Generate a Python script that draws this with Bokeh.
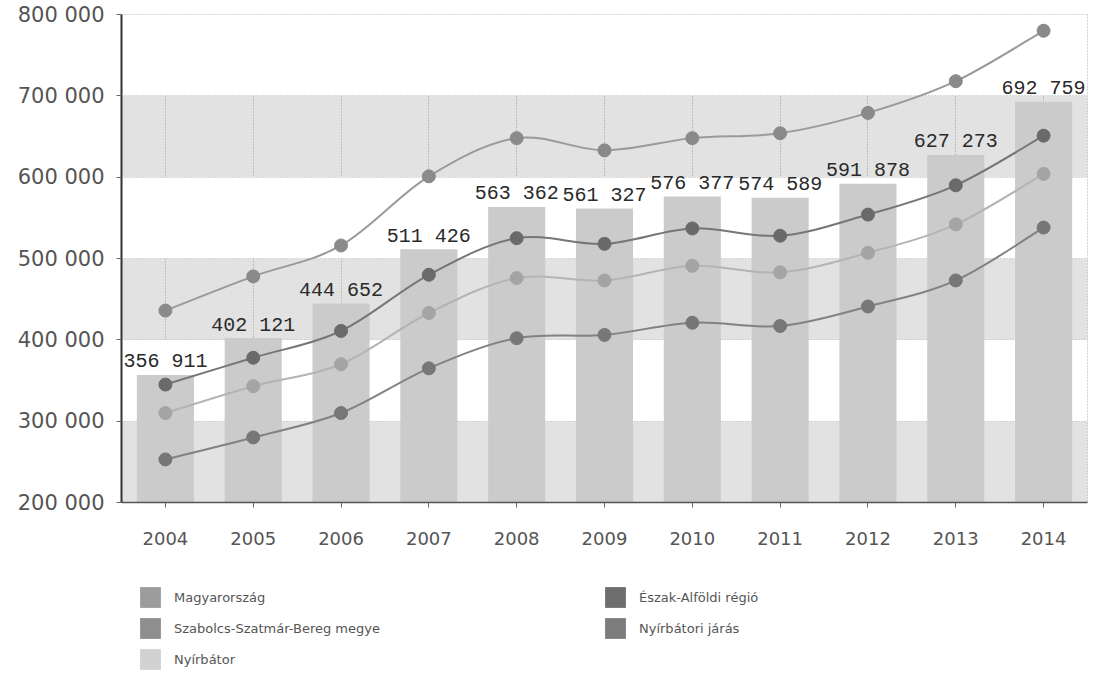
import numpy as np
from bokeh.plotting import figure
from bokeh.layouts import column
from bokeh.models import Legend, LegendItem, ColumnDataSource
from bokeh.core.properties import value
from bokeh.embed import file_html
from bokeh.resources import INLINE

# ---- data ----
years = [2004, 2005, 2006, 2007, 2008, 2009, 2010, 2011, 2012, 2013, 2014]
nyirbator = [356911, 402121, 444652, 511426, 563362, 561327, 576377, 574589, 591878, 627273, 692759]
magyarorszag = [436000, 478000, 516000, 601000, 648000, 633000, 648000, 654000, 679000, 718000, 780000]
eszak_alfoldi = [345000, 378000, 411000, 480000, 525000, 518000, 537000, 528000, 554000, 590000, 651000]
szabolcs = [310000, 343000, 370000, 433000, 476000, 473000, 491000, 483000, 507000, 542000, 604000]
nyirbatori_jaras = [253000, 280000, 310000, 365000, 402000, 406000, 421000, 417000, 441000, 473000, 538000]
y_ticks = [200000, 300000, 400000, 500000, 600000, 700000, 800000]
y_tick_labels = ["200 000", "300 000", "400 000", "500 000", "600 000", "700 000", "800 000"]
bar_labels = [f"{v:,}".replace(",", " ") for v in nyirbator]

names = {
    "hu": "Magyarország",
    "ea": "Észak-Alföldi régió",
    "sz": "Szabolcs-Szatmár-Bereg megye",
    "nj": "Nyírbátori járás",
    "ny": "Nyírbátor",
}

BAND = "#e2e2e2"
X_RANGE = (2003.5, 2014.5)
Y_RANGE = (200000, 800000)

p = figure(width=1088, height=560, output_backend="svg", toolbar_location=None,
           x_range=X_RANGE, y_range=Y_RANGE,
           min_border_left=121, min_border_top=14, min_border_right=1, min_border_bottom=58,
           background_fill_color=BAND, border_fill_color="white")

# axes
p.yaxis.ticker = y_ticks
p.yaxis.major_label_overrides = {t: l for t, l in zip(y_ticks, y_tick_labels)}
p.xaxis.ticker = years
for ax in (p.xaxis, p.yaxis):
    ax.major_label_text_font = "DejaVu Sans"
    ax.major_label_text_color = "#555555"
    ax.minor_tick_line_color = None
    ax.major_tick_line_color = "#666666"
    ax.major_tick_in = 0
    ax.major_tick_out = 5
p.yaxis.major_label_text_font_size = "21px"
p.xaxis.major_label_text_font_size = "18px"
p.yaxis.axis_line_color = "#333333"
p.yaxis.axis_line_width = 2
p.xaxis.axis_line_color = "#555555"
p.xaxis.axis_line_width = 1.5
p.yaxis.major_label_standoff = 12
p.xaxis.major_label_standoff = 24

# grid: grey background, white alternate bands (grey band lowest)
p.ygrid.grid_line_color = "#bbbbbb"
p.ygrid.grid_line_dash = "1 2"
p.ygrid.band_fill_color = "white"
p.ygrid.band_fill_alpha = 1.0
p.xgrid.grid_line_color = "#999999"
p.xgrid.grid_line_dash = "1 2"
p.outline_line_color = "#aaaaaa"
p.outline_line_dash = "1 2"

# bars
bars = p.vbar(x=years, top=nyirbator, bottom=0, width=0.65,
              fill_color="#cbcbcb", line_color=None)


def smooth(xs, ys, t=1.0 / 6):
    xs = np.asarray(xs, float)
    ys = np.asarray(ys, float)
    n = len(xs)
    xp = np.concatenate([[xs[0]], xs, [xs[-1]]])
    yp = np.concatenate([[ys[0]], ys, [ys[-1]]])
    x0, y0, x1, y1, cx0, cy0, cx1, cy1 = ([] for _ in range(8))
    for i in range(n - 1):
        a, b, c, d = i, i + 1, i + 2, i + 3
        x0.append(xp[b]); y0.append(yp[b])
        x1.append(xp[c]); y1.append(yp[c])
        cx0.append(xp[b] + (xp[c] - xp[a]) * t)
        cy0.append(yp[b] + (yp[c] - yp[a]) * t)
        cx1.append(xp[c] - (xp[d] - xp[b]) * t)
        cy1.append(yp[c] - (yp[d] - yp[b]) * t)
    return dict(x0=x0, y0=y0, x1=x1, y1=y1, cx0=cx0, cy0=cy0, cx1=cx1, cy1=cy1)


series = [
    ("hu", magyarorszag, "#9a9a9a", "#8a8a8a"),
    ("ea", eszak_alfoldi, "#767676", "#6a6a6a"),
    ("sz", szabolcs, "#b4b4b4", "#a4a4a4"),
    ("nj", nyirbatori_jaras, "#828282", "#777777"),
]
swatch_colors = {"hu": "#9c9c9c", "ea": "#6e6e6e", "sz": "#8e8e8e", "nj": "#7c7c7c", "ny": "#d2d2d2"}
series_values = {"hu": magyarorszag, "ea": eszak_alfoldi, "sz": szabolcs, "nj": nyirbatori_jaras, "ny": nyirbator}

for key, vals, lc, mc in series:
    p.bezier(source=ColumnDataSource(smooth(years, vals)), x0="x0", y0="y0", x1="x1", y1="y1",
             cx0="cx0", cy0="cy0", cx1="cx1", cy1="cy1", line_color=lc, line_width=2)
    p.scatter(years, vals, size=13, fill_color=mc, line_color=mc)

# bar labels
p.text(x=years, y=nyirbator, text=bar_labels, text_align="center", text_baseline="alphabetic",
       y_offset=-13, text_font=value("Liberation Mono"), text_font_size="20px", text_color="#2a2a2a")

# ---- legend figure below: zero-height, outline-free bars only feed the legend swatches ----
lf = figure(width=1088, height=120, output_backend="svg", toolbar_location=None,
            x_range=X_RANGE, y_range=Y_RANGE, x_axis_type=None, y_axis_type=None,
            min_border_left=121, min_border_right=1, min_border_top=0, min_border_bottom=0,
            outline_line_color=None, background_fill_color="white", border_fill_color="white")
lf.xgrid.visible = False
lf.ygrid.visible = False

sw = {}
for k in ["hu", "sz", "ny", "ea", "nj"]:
    sw[k] = lf.vbar(x=years, top=series_values[k], bottom=series_values[k], width=0.5,
                    fill_color=swatch_colors[k], line_color=None)


def make_legend(keys, loc):
    lg = Legend(items=[LegendItem(label=names[k], renderers=[sw[k]]) for k in keys], location=loc)
    lg.glyph_width = 26
    lg.glyph_height = 26
    lg.label_height = 26
    lg.spacing = 5
    lg.padding = 0
    lg.margin = 0
    lg.label_standoff = 11
    lg.border_line_color = None
    lg.background_fill_alpha = 0
    lg.label_text_font = "DejaVu Sans"
    lg.label_text_font_size = "13px"
    lg.label_text_color = "#555555"
    return lg


lf.add_layout(make_legend(["hu", "sz", "ny"], (16, 8)), "center")
lf.add_layout(make_legend(["ea", "nj"], (481, 39)), "center")

open("out.html", "w").write(file_html(column(p, lf, spacing=0), INLINE))
